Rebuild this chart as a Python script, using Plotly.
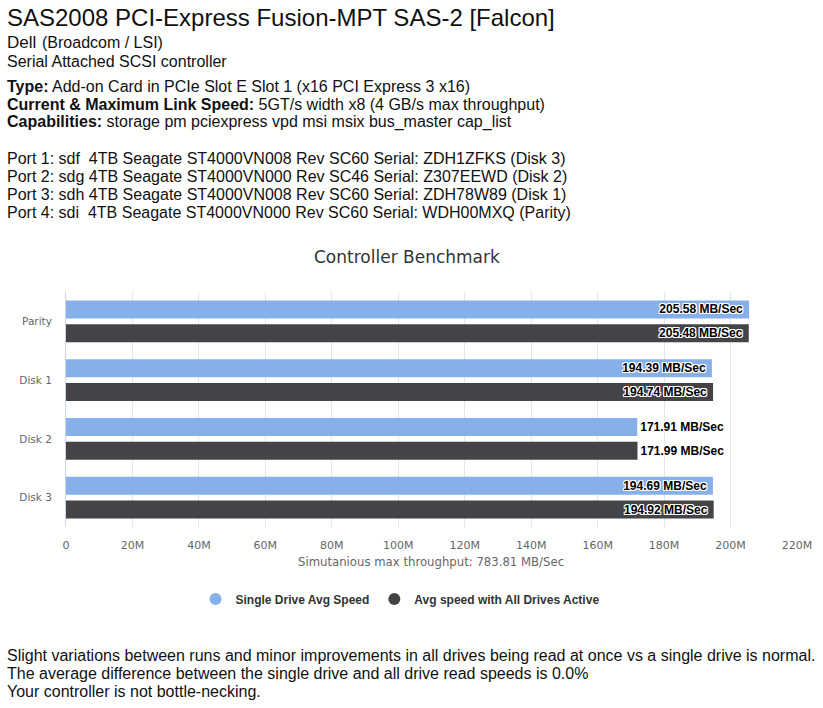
import plotly.graph_objects as go

categories = ["Parity", "Disk 1", "Disk 2", "Disk 3"]
single_speed = [205.58, 194.39, 171.91, 194.69]
all_speed = [205.48, 194.74, 171.99, 194.92]
label_positions = ["inside", "inside", "outside", "inside"]
x_tick_vals = [0, 20, 40, 60, 80, 100, 120, 140, 160, 180, 200, 220]
x_tick_text = ["0", "20M", "40M", "60M", "80M", "100M", "120M", "140M", "160M", "180M", "200M", "220M"]

header_lines = [
    "Serial Attached SCSI controller",
    "<b>Type:</b> Add-on Card in PCIe Slot E Slot 1 (x16 PCI Express 3 x16)",
    "<b>Current &amp; Maximum Link Speed:</b> 5GT/s width x8 (4 GB/s max throughput)",
    "<b>Capabilities:</b> storage pm pciexpress vpd msi msix bus_master cap_list",
]
port_lines = [
    "Port 1: sdf \u00a04TB Seagate ST4000VN008 Rev SC60 Serial: ZDH1ZFKS (Disk 3)",
    "Port 2: sdg 4TB Seagate ST4000VN000 Rev SC46 Serial: Z307EEWD (Disk 2)",
    "Port 3: sdh 4TB Seagate ST4000VN008 Rev SC60 Serial: ZDH78W89 (Disk 1)",
    "Port 4: sdi \u00a04TB Seagate ST4000VN000 Rev SC60 Serial: WDH00MXQ (Parity)",
]
footer_lines = [
    "Slight variations between runs and minor improvements in all drives being read at once vs a single drive is normal.",
    "The average difference between the single drive and all drive read speeds is 0.0%",
    "Your controller is not bottle-necking.",
]

W, H = 823, 708
L, R, T, B = 66, 797, 292, 527
PW, PH = R - L, B - T


def px(x):
    return (x - L) / PW


def py(y):
    return (B - y) / PH


BLUE = "#87afe9"
DARK = "#434348"
SHADOW = ("1px 0px 0px #fff, -1px 0px 0px #fff, 0px 1px 0px #fff, 0px -1px 0px #fff, "
          "1px 1px 0px #fff, -1px -1px 0px #fff, 1px -1px 0px #fff, -1px 1px 0px #fff")
label_font = dict(family="Liberation Sans", size=12, color="#000", weight="bold", shadow=SHADOW)

fig = go.Figure()
for name, vals, color in [("Single Drive Avg Speed", single_speed, BLUE),
                          ("Avg speed with All Drives Active", all_speed, DARK)]:
    fig.add_trace(go.Bar(
        y=categories, x=vals, orientation="h", name=name,
        marker=dict(color=color, line=dict(width=0)),
        texttemplate="%{x:.2f} MB/Sec\u00a0", textposition=label_positions,
        insidetextanchor="end", textfont=label_font,
        insidetextfont=label_font, outsidetextfont=label_font,
        constraintext="none", cliponaxis=False,
        showlegend=False, hoverinfo="skip",
    ))
    fig.add_trace(go.Scatter(
        x=[None], y=[None], mode="markers", name=name,
        marker=dict(symbol="circle", size=12, color=color), showlegend=True,
    ))

ann = []


def text(x, y, s, size=16, family="Liberation Sans", color="#111", anchor="left"):
    ann.append(dict(x=px(x), y=py(y), xref="paper", yref="paper", text=s, showarrow=False,
                    xanchor=anchor, yanchor="middle",
                    font=dict(family=family, size=size, color=color)))


text(5, 18, "SAS2008 PCI-Express Fusion-MPT SAS-2 [Falcon]", size=24)
text(5, 42, "Dell", size=17)
text(40, 42, "(Broadcom / LSI)", size=16)
for i, s in enumerate(header_lines):
    y = 61 if i == 0 else 86 + (i - 1) * 18
    text(5, y, s)
for i, s in enumerate(port_lines):
    text(5, 158 + i * 18, s)
for i, s in enumerate(footer_lines):
    text(5, 655 + i * 18, s)

text(407, 257, "Controller Benchmark", size=17, family="DejaVu Sans", color="#333", anchor="center")
text(431, 562, "Simutanious max throughput: 783.81 MB/Sec", size=11.7, family="DejaVu Sans",
     color="#666", anchor="center")

fig.update_layout(
    width=W, height=H,
    margin=dict(l=L, r=W - R, t=T, b=H - B, pad=0),
    paper_bgcolor="white", plot_bgcolor="white",
    barmode="group", bargap=0.186, bargroupgap=0.25,
    showlegend=True,
    legend=dict(orientation="h", x=px(400), xanchor="center", y=py(599), yanchor="middle",
                font=dict(family="Liberation Sans", size=12, color="#333", weight="bold"),
                itemwidth=30, bgcolor="rgba(0,0,0,0)"),
    annotations=ann,
    xaxis=dict(range=[0, 220], tickvals=x_tick_vals, ticktext=x_tick_text,
               showgrid=True, gridcolor="#e6e6e6", gridwidth=1, zeroline=False,
               showline=False, ticks="", ticklabelstandoff=10,
               tickfont=dict(family="DejaVu Sans", size=11, color="#666"), fixedrange=True),
    yaxis=dict(categoryorder="array", categoryarray=categories, autorange="reversed",
               showgrid=False, zeroline=False, showline=True, linecolor="#ccd6eb", linewidth=1,
               ticks="", ticklabelstandoff=11,
               tickfont=dict(family="DejaVu Sans", size=10.5, color="#666"), fixedrange=True),
)

fig.write_html("out.html")
